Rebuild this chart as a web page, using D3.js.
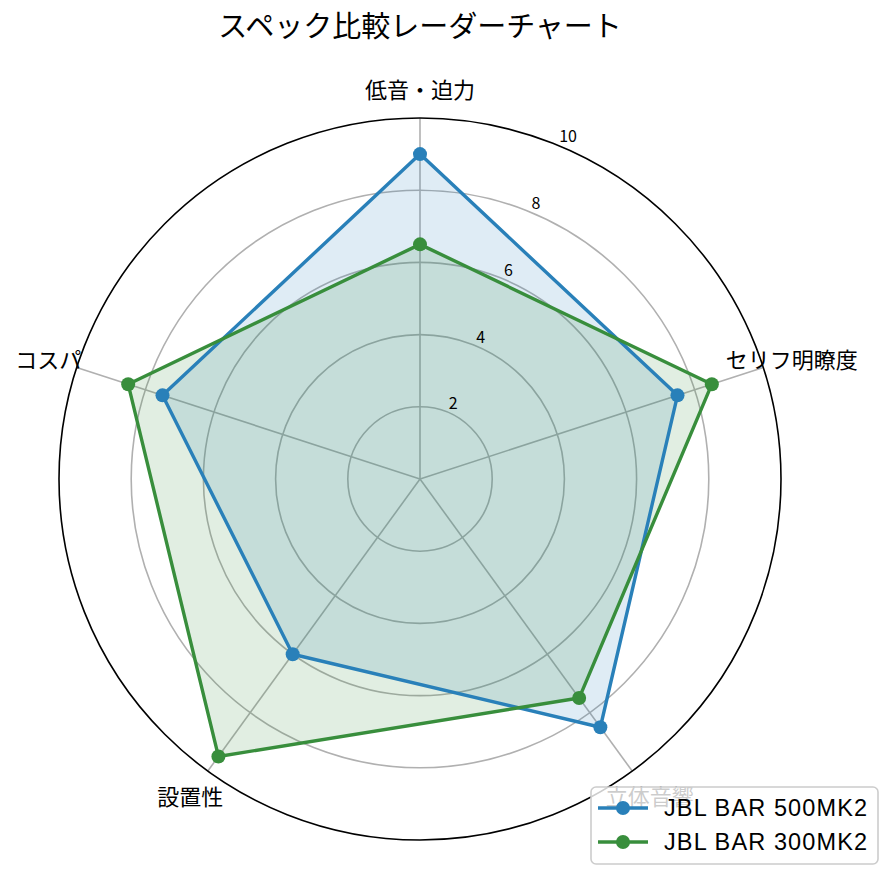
<!DOCTYPE html>
<html>
<head>
<meta charset="utf-8">
<script src="https://cdn.jsdelivr.net/npm/d3@7"></script>
<style>
  body { margin: 0; background: #fff; }
  svg { font-family: "Noto Sans CJK JP", "Noto Sans", sans-serif; }
</style>
</head>
<body>
<div id="chart"></div>
<script>
// data
const categories = ["低音・迫力", "セリフ明瞭度", "立体音響", "設置性", "コスパ"];
const seriesNames = ["JBL BAR 500MK2", "JBL BAR 300MK2"];
const bar500 = [9, 7.5, 8.5, 6, 7.5];
const bar300 = [6.5, 8.5, 7.5, 9.5, 8.5];
const rTicks = [2, 4, 6, 8, 10];
const colors = ["#2980b9", "#388e3c"];

const width = 893, height = 880;
const cx = 420, cy = 479, R = 361;

const svg = d3.select("#chart").append("svg")
    .attr("width", width)
    .attr("height", height);

const rScale = d3.scaleLinear().domain([0, 10]).range([0, R]);
const aScale = d3.scaleLinear().domain([0, categories.length]).range([0, 2 * Math.PI]);

const g = svg.append("g").attr("transform", "translate(" + cx + "," + cy + ")");

function pt(i, v) {
  const a = aScale(i);
  return [rScale(v) * Math.sin(a), -rScale(v) * Math.cos(a)];
}

// grid rings
g.selectAll("circle.grid").data(rTicks.slice(0, -1)).join("circle")
    .attr("class", "grid")
    .attr("r", d => rScale(d))
    .attr("fill", "none")
    .attr("stroke", "#b0b0b0")
    .attr("stroke-width", 1.6);

// spokes
g.selectAll("line.spoke").data(categories).join("line")
    .attr("class", "spoke")
    .attr("x1", 0).attr("y1", 0)
    .attr("x2", (d, i) => pt(i, 10)[0])
    .attr("y2", (d, i) => pt(i, 10)[1])
    .attr("stroke", "#b0b0b0")
    .attr("stroke-width", 1.6);

// series
const lineGen = d3.lineRadial()
    .angle((d, i) => aScale(i))
    .radius(d => rScale(d))
    .curve(d3.curveLinearClosed);

[bar500, bar300].forEach((vals, k) => {
  g.append("path")
    .attr("d", lineGen(vals))
    .attr("fill", colors[k])
    .attr("fill-opacity", 0.15)
    .attr("stroke", "none");
});
[bar500, bar300].forEach((vals, k) => {
  g.append("path")
    .attr("d", lineGen(vals))
    .attr("fill", "none")
    .attr("stroke", colors[k])
    .attr("stroke-width", 3.4)
    .attr("stroke-linejoin", "round");
  g.selectAll(null).data(vals).join("circle")
    .attr("cx", (d, i) => pt(i, d)[0])
    .attr("cy", (d, i) => pt(i, d)[1])
    .attr("r", 7)
    .attr("fill", colors[k]);
});

// outer spine
g.append("circle")
    .attr("r", R)
    .attr("fill", "none")
    .attr("stroke", "#000")
    .attr("stroke-width", 1.6);

// radial tick labels at 22.5 deg
const tickAng = 22.5 * Math.PI / 180;
g.selectAll("text.rtick").data(rTicks).join("text")
    .attr("class", "rtick")
    .attr("x", d => rScale(d) * Math.sin(tickAng) + 1)
    .attr("y", d => -rScale(d) * Math.cos(tickAng) - 3)
    .attr("font-size", 16)
    .attr("fill", "#000")
    .text(d => d);

// category labels
g.selectAll("text.cat").data(categories).join("text")
    .attr("class", "cat")
    .attr("x", (d, i) => (R + 30) * Math.sin(aScale(i)))
    .attr("y", (d, i) => -(R + 30) * Math.cos(aScale(i)))
    .attr("text-anchor", "middle")
    .attr("dominant-baseline", "central")
    .attr("font-size", 22)
    .attr("fill", "#000")
    .text(d => d);

// title
svg.append("text")
    .attr("x", 420)
    .attr("y", 24)
    .attr("text-anchor", "middle")
    .attr("dominant-baseline", "central")
    .attr("font-size", 29)
    .text("スペック比較レーダーチャート");

// legend
const leg = svg.append("g").attr("transform", "translate(591,787)");
leg.append("rect")
    .attr("width", 287).attr("height", 77)
    .attr("rx", 5)
    .attr("fill", "#fff").attr("fill-opacity", 0.8)
    .attr("stroke", "#ccc").attr("stroke-width", 1.6);
seriesNames.forEach((name, k) => {
  const y = 21 + k * 34;
  leg.append("line")
    .attr("x1", 7).attr("x2", 57).attr("y1", y).attr("y2", y)
    .attr("stroke", colors[k]).attr("stroke-width", 3.4);
  leg.append("circle").attr("cx", 32).attr("cy", y).attr("r", 7).attr("fill", colors[k]);
  leg.append("text")
    .attr("x", 73).attr("y", y)
    .attr("dominant-baseline", "central")
    .attr("font-family", "'Liberation Sans', Arial, sans-serif")
    .attr("font-size", 23.5)
    .attr("textLength", 203)
    .attr("lengthAdjust", "spacing")
    .text(name);
});
</script>
</body>
</html>
